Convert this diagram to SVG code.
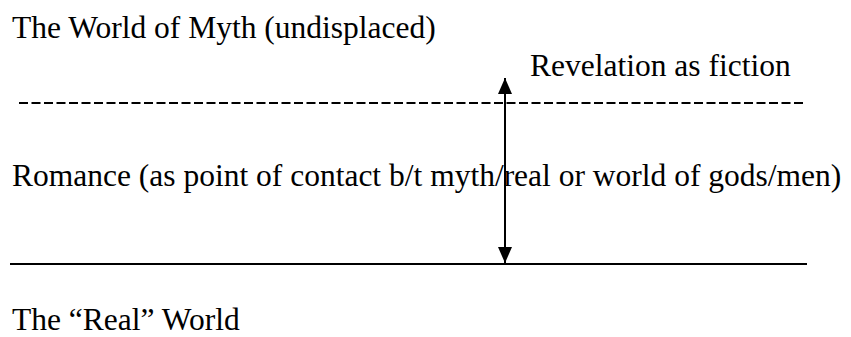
<svg xmlns="http://www.w3.org/2000/svg" width="851" height="337" viewBox="0 0 851 337">
  <style>
    .label { font-family: "Liberation Serif", "Times New Roman", serif; font-size: 31.5px; fill: #000; }
    .rule { stroke: #000; stroke-width: 2; fill: none; }
    .dashed { stroke-dasharray: 9 3.5; }
  </style>
  <defs>
    <marker id="head" viewBox="0 0 16 16" refX="16" refY="8" markerWidth="16" markerHeight="16" markerUnits="userSpaceOnUse" orient="auto-start-reverse">
      <path d="M0,1 L16,8 L0,15 Z" fill="#000"/>
    </marker>
  </defs>
  <rect width="851" height="337" fill="#fff"/>

  <g id="myth-world">
    <text class="label" x="12" y="38">The World of Myth (undisplaced)</text>
  </g>
  <g id="revelation">
    <text class="label" x="530" y="76">Revelation as fiction</text>
  </g>
  <g id="romance">
    <text class="label" x="12" y="186">Romance (as point of contact b/t myth/real or world of gods/men)</text>
  </g>
  <g id="real-world">
    <text class="label" x="12" y="330">The “Real” World</text>
  </g>

  <g id="connectors">
    <line class="rule dashed" x1="19" y1="103" x2="803" y2="103"/>
    <line class="rule" x1="10" y1="264" x2="807" y2="264"/>
    <line class="rule" x1="505" y1="78" x2="505" y2="263" marker-start="url(#head)" marker-end="url(#head)"/>
  </g>
</svg>
